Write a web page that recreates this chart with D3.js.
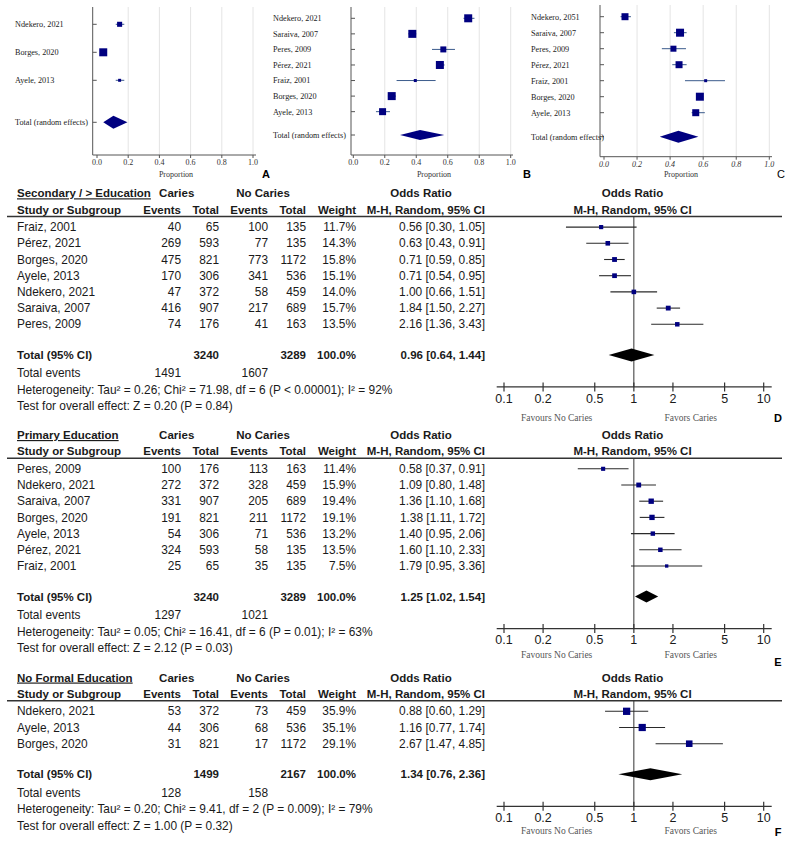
<!DOCTYPE html>
<html>
<head>
<meta charset="utf-8">
<script src="https://cdn.jsdelivr.net/npm/d3@7"></script>
<style>
  body { margin: 0; background: #fff; }
  svg { display: block; }
  .tbl { font-family: "Liberation Sans", Arial, sans-serif; font-size: 11.9px; fill: #1a1a1a; }
  .ser { font-family: "Liberation Serif", "Times New Roman", serif; }
</style>
</head>
<body>
<div id="chart"></div>
<script>
// ============================================
// Data — proportion panels (A, B, C)
// ============================================
const propStudiesA = ['Ndekero, 2021', 'Borges, 2020', 'Ayele, 2013'];
const propValA = [0.145, 0.04, 0.145];
const propLoA = [0.12, 0.03, 0.12];
const propHiA = [0.175, 0.05, 0.175];
const propWeightA = [26, 65, 9];
const propTotalA = [0.105, 0.04, 0.195]; // estimate, low, high

const propStudiesB = ['Ndekero, 2021', 'Saraiva, 2007', 'Peres, 2009', 'Pérez, 2021', 'Fraiz, 2001', 'Borges, 2020', 'Ayele, 2013'];
const propValB = [0.73, 0.375, 0.572, 0.55, 0.394, 0.244, 0.186];
const propLoB = [0.70, 0.35, 0.50, 0.53, 0.275, 0.22, 0.144];
const propHiB = [0.77, 0.40, 0.646, 0.58, 0.523, 0.27, 0.233];
const propWeightB = [18.3, 18.3, 10.3, 18.3, 2.6, 18.3, 14];
const propTotalB = [0.424, 0.297, 0.578];

const propStudiesC = ['Ndekero, 2051', 'Saraiva, 2007', 'Peres, 2009', 'Pérez, 2021', 'Fraiz, 2001', 'Borges, 2020', 'Ayele, 2013'];
const propValC = [0.127, 0.46, 0.42, 0.454, 0.615, 0.58, 0.555];
const propLoC = [0.10, 0.423, 0.35, 0.413, 0.49, 0.56, 0.53];
const propHiC = [0.163, 0.50, 0.496, 0.50, 0.732, 0.60, 0.61];
const propWeightC = [15.3, 20, 11.3, 15.3, 2.8, 20, 15.3];
const propTotalC = [0.45, 0.337, 0.571];

const propTicks = [0.0, 0.2, 0.4, 0.6, 0.8, 1.0];

// ============================================
// Data — odds ratio forest plots (D, E, F)
// ============================================
const secTitle = 'Secondary / > Education';
const secStudies = ['Fraiz, 2001', 'Pérez, 2021', 'Borges, 2020', 'Ayele, 2013', 'Ndekero, 2021', 'Saraiva, 2007', 'Peres, 2009'];
const secCariesEv = [40, 269, 475, 170, 47, 416, 74];
const secCariesTot = [65, 593, 821, 306, 372, 907, 176];
const secNoEv = [100, 77, 773, 341, 58, 217, 41];
const secNoTot = [135, 135, 1172, 536, 459, 689, 163];
const secWeight = [11.7, 14.3, 15.8, 15.1, 14.0, 15.7, 13.5];
const secOR = [0.56, 0.63, 0.71, 0.71, 1.00, 1.84, 2.16];
const secLo = [0.30, 0.43, 0.59, 0.54, 0.66, 1.50, 1.36];
const secHi = [1.05, 0.91, 0.85, 0.95, 1.51, 2.27, 3.43];
const secTotals = [1491, 3240, 1607, 3289]; // caries events, caries total, no-caries events, no-caries total
const secPooled = [0.96, 0.64, 1.44];
const secHet = 'Heterogeneity: Tau² = 0.26; Chi² = 71.98, df = 6 (P < 0.00001); I² = 92%';
const secTest = 'Test for overall effect: Z = 0.20 (P = 0.84)';

const priTitle = 'Primary Education';
const priStudies = ['Peres, 2009', 'Ndekero, 2021', 'Saraiva, 2007', 'Borges, 2020', 'Ayele, 2013', 'Pérez, 2021', 'Fraiz, 2001'];
const priCariesEv = [100, 272, 331, 191, 54, 324, 25];
const priCariesTot = [176, 372, 907, 821, 306, 593, 65];
const priNoEv = [113, 328, 205, 211, 71, 58, 35];
const priNoTot = [163, 459, 689, 1172, 536, 135, 135];
const priWeight = [11.4, 15.9, 19.4, 19.1, 13.2, 13.5, 7.5];
const priOR = [0.58, 1.09, 1.36, 1.38, 1.40, 1.60, 1.79];
const priLo = [0.37, 0.80, 1.10, 1.11, 0.95, 1.10, 0.95];
const priHi = [0.91, 1.48, 1.68, 1.72, 2.06, 2.33, 3.36];
const priTotals = [1297, 3240, 1021, 3289];
const priPooled = [1.25, 1.02, 1.54];
const priHet = 'Heterogeneity: Tau² = 0.05; Chi² = 16.41, df = 6 (P = 0.01); I² = 63%';
const priTest = 'Test for overall effect: Z = 2.12 (P = 0.03)';

const nfeTitle = 'No Formal Education';
const nfeStudies = ['Ndekero, 2021', 'Ayele, 2013', 'Borges, 2020'];
const nfeCariesEv = [53, 44, 31];
const nfeCariesTot = [372, 306, 821];
const nfeNoEv = [73, 68, 17];
const nfeNoTot = [459, 536, 1172];
const nfeWeight = [35.9, 35.1, 29.1];
const nfeOR = [0.88, 1.16, 2.67];
const nfeLo = [0.60, 0.77, 1.47];
const nfeHi = [1.29, 1.74, 4.85];
const nfeTotals = [128, 1499, 158, 2167];
const nfePooled = [1.34, 0.76, 2.36];
const nfeHet = 'Heterogeneity: Tau² = 0.20; Chi² = 9.41, df = 2 (P = 0.009); I² = 79%';
const nfeTest = 'Test for overall effect: Z = 1.00 (P = 0.32)';

const orTicks = [0.1, 0.2, 0.5, 1, 2, 5, 10];

// ============================================
const W = 793, H = 843;
const NAVY = '#000080';

const svg = d3.select('#chart').append('svg')
    .attr('width', W)
    .attr('height', H)
    .style('background', '#fff');

// ---------- proportion panels ----------
function drawPropPanel(p) {
    const g = svg.append('g');
    const x = d3.scaleLinear().domain([0, 1]).range(p.xRange);
    const n = p.studies.length;
    const y = d3.scaleLinear().domain([0, n + 0.5]).range(p.yRange);
    const size = d3.scaleSqrt().domain([0, d3.max(p.weight)]).range([0, 8]);

    // grid
    g.selectAll('.grid').data(propTicks.slice(1)).enter().append('line')
        .attr('x1', d => x(d)).attr('x2', d => x(d))
        .attr('y1', p.top).attr('y2', p.bottom)
        .attr('stroke', '#e4e4e4').attr('stroke-width', 1);

    // axes
    g.append('line').attr('x1', p.axisX).attr('x2', p.axisX)
        .attr('y1', p.top).attr('y2', p.bottom).attr('stroke', '#555');
    g.append('line').attr('x1', p.axisX).attr('x2', p.axisEnd)
        .attr('y1', p.bottom).attr('y2', p.bottom).attr('stroke', '#555');

    g.selectAll('.xt').data(propTicks).enter().append('line')
        .attr('x1', d => x(d)).attr('x2', d => x(d))
        .attr('y1', p.bottom).attr('y2', p.bottom + 3).attr('stroke', '#555');
    g.selectAll('.xl').data(propTicks).enter().append('text')
        .attr('class', 'ser')
        .attr('x', d => x(d)).attr('y', p.tickY)
        .attr('text-anchor', 'middle').attr('dy', '0.35em')
        .style('font-size', '8px').style('font-style', p.italic ? 'italic' : 'normal')
        .attr('fill', '#333')
        .text(d => d.toFixed(1));
    g.append('text').attr('class', 'ser')
        .attr('x', p.propX).attr('y', 174).attr('dy', '0.35em')
        .attr('text-anchor', 'middle').style('font-size', '8px').attr('fill', '#333')
        .text('Proportion');

    const rows = p.studies.map((s, i) => ({ name: s, v: p.val[i], lo: p.lo[i], hi: p.hi[i], w: p.weight[i], i }));
    const allIdx = rows.map(r => r.i).concat([n + 0.5]);

    // row ticks on the y axis
    g.selectAll('.yt').data(allIdx).enter().append('line')
        .attr('x1', p.axisX).attr('x2', p.axisX + 4)
        .attr('y1', d => y(d)).attr('y2', d => y(d)).attr('stroke', '#555');

    g.selectAll('.lab').data(rows.map(r => r.name).concat(['Total (random effects)'])).enter()
        .append('text').attr('class', 'ser')
        .attr('x', p.labelX).attr('y', (d, i) => y(allIdx[i])).attr('dy', '0.35em')
        .style('font-size', '8.2px').attr('fill', '#222')
        .text(d => d);

    g.selectAll('.ci').data(rows).enter().append('line')
        .attr('x1', d => x(d.lo)).attr('x2', d => x(d.hi))
        .attr('y1', d => y(d.i)).attr('y2', d => y(d.i))
        .attr('stroke', '#3b5b8c').attr('stroke-width', 1);
    g.selectAll('.sq').data(rows).enter().append('rect')
        .attr('x', d => x(d.v) - size(d.w) / 2)
        .attr('y', d => y(d.i) - size(d.w) / 2)
        .attr('width', d => size(d.w)).attr('height', d => size(d.w))
        .attr('fill', NAVY);

    const [te, tl, th] = p.total;
    const ty = y(n + 0.5), hh = p.diamondH / 2;
    g.append('path')
        .attr('d', `M${x(tl)},${ty}L${x(te)},${ty - hh}L${x(th)},${ty}L${x(te)},${ty + hh}Z`)
        .attr('fill', NAVY);

    g.append('text')
        .attr('x', p.letterX).attr('y', 174).attr('dy', '0.35em')
        .attr('text-anchor', 'middle')
        .style('font-family', '"Liberation Sans", Arial, sans-serif')
        .style('font-size', '11px').style('font-weight', p.letterBold ? 'bold' : 'normal')
        .text(p.letter);
}

drawPropPanel({
    studies: propStudiesA, val: propValA, lo: propLoA, hi: propHiA, weight: propWeightA, total: propTotalA,
    xRange: [97, 253], yRange: [24.3, 122.3], axisX: 92.7, axisEnd: 256, top: 7, bottom: 155,
    labelX: 15, tickY: 162, propX: 176, letter: 'A', letterX: 266, letterBold: true, diamondH: 13
});
drawPropPanel({
    studies: propStudiesB, val: propValB, lo: propLoB, hi: propHiB, weight: propWeightB, total: propTotalB,
    xRange: [353.3, 510.7], yRange: [18.3, 135], axisX: 351, axisEnd: 513, top: 7, bottom: 155,
    labelX: 273, tickY: 162, propX: 434, letter: 'B', letterX: 527, letterBold: true, diamondH: 10
});
drawPropPanel({
    studies: propStudiesC, val: propValC, lo: propLoC, hi: propHiC, weight: propWeightC, total: propTotalC,
    xRange: [604, 769.3], yRange: [16.7, 136.7], axisX: 600, axisEnd: 772, top: 5, bottom: 156.7,
    labelX: 531, tickY: 164, propX: 681, letter: 'C', letterX: 781, letterBold: false, diamondH: 12, italic: true
});

// ---------- forest plots ----------
const COL = { name: 17, cEv: 181, cTot: 219, nEv: 268, nTot: 306, weight: 356, ci: 485 };
const fx = d3.scaleLog().domain([0.1, 10]).range([504, 763.7]);
const sqSize = d3.scaleSqrt().domain([0, 36]).range([0, 7.3]);
const fmt2 = d3.format('.2f');

function drawForest(b, L) {
    const g = svg.append('g').attr('class', 'tbl');
    const t = L.top;
    const rowY = i => t + 33.8 + i * 16.2;
    const n = b.studies.length;
    const totY = rowY(n - 1) + 30.6;
    const axisY = totY + 32;

    const txt = (x, y, s, anchor, bold) => g.append('text')
        .attr('x', x).attr('y', y).attr('dy', '0.35em')
        .attr('text-anchor', anchor || 'start')
        .style('font-weight', bold ? 'bold' : 'normal')
        .style('font-size', bold ? '11.5px' : null)
        .text(s);

    // headers
    txt(COL.name, t, b.title, 'start', true).style('text-decoration', 'underline');
    txt(176.7, t, 'Caries', 'middle', true);
    txt(263, t, 'No Caries', 'middle', true);
    txt(421, t, 'Odds Ratio', 'middle', true);
    txt(632.5, t, 'Odds Ratio', 'middle', true);
    const h2 = t + 16.3;
    txt(COL.name, h2, 'Study or Subgroup', 'start', true);
    txt(COL.cEv, h2, 'Events', 'end', true);
    txt(COL.cTot, h2, 'Total', 'end', true);
    txt(COL.nEv, h2, 'Events', 'end', true);
    txt(COL.nTot, h2, 'Total', 'end', true);
    txt(COL.weight, h2, 'Weight', 'end', true);
    txt(COL.ci, h2, 'M-H, Random, 95% CI', 'end', true);
    txt(632.5, h2, 'M-H, Random, 95% CI', 'middle', true);

    const lineY = t + 23.3;
    g.append('line').attr('x1', 7).attr('x2', 782)
        .attr('y1', lineY).attr('y2', lineY)
        .attr('stroke', '#333').attr('stroke-width', 1.5);

    // study rows
    const rows = b.studies.map((s, i) => ({
        name: s, ce: b.cEv[i], ct: b.cTot[i], ne: b.nEv[i], nt: b.nTot[i],
        w: b.weight[i], or: b.or[i], lo: b.lo[i], hi: b.hi[i], y: rowY(i)
    }));
    rows.forEach(r => {
        txt(COL.name, r.y, r.name);
        txt(COL.cEv, r.y, r.ce, 'end');
        txt(COL.cTot, r.y, r.ct, 'end');
        txt(COL.nEv, r.y, r.ne, 'end');
        txt(COL.nTot, r.y, r.nt, 'end');
        txt(COL.weight, r.y, r.w.toFixed(1) + '%', 'end');
        txt(COL.ci, r.y, `${fmt2(r.or)} [${fmt2(r.lo)}, ${fmt2(r.hi)}]`, 'end');
    });

    // totals
    txt(COL.name, totY, 'Total (95% CI)', 'start', true);
    txt(COL.cTot, totY, b.totals[1], 'end', true);
    txt(COL.nTot, totY, b.totals[3], 'end', true);
    txt(COL.weight, totY, '100.0%', 'end', true);
    txt(COL.ci, totY, `${fmt2(b.pooled[0])} [${fmt2(b.pooled[1])}, ${fmt2(b.pooled[2])}]`, 'end', true);
    txt(COL.name, totY + 18.2, 'Total events');
    txt(COL.cEv, totY + 18.2, b.totals[0], 'end');
    txt(COL.nEv, totY + 18.2, b.totals[2], 'end');
    txt(COL.name, totY + 34.9, b.het);
    txt(COL.name, totY + 51.2, b.test);

    // plot: null line
    g.append('line').attr('x1', fx(1)).attr('x2', fx(1))
        .attr('y1', lineY).attr('y2', axisY)
        .attr('stroke', '#333').attr('stroke-width', 1);

    g.selectAll('.ci').data(rows).enter().append('line')
        .attr('x1', d => fx(d.lo)).attr('x2', d => fx(d.hi))
        .attr('y1', d => d.y).attr('y2', d => d.y)
        .attr('stroke', '#2a2a2a').attr('stroke-width', 1.1);
    g.selectAll('.sq').data(rows).enter().append('rect')
        .attr('x', d => fx(d.or) - sqSize(d.w) / 2)
        .attr('y', d => d.y - sqSize(d.w) / 2)
        .attr('width', d => sqSize(d.w)).attr('height', d => sqSize(d.w))
        .attr('fill', NAVY);

    const [pe, pl, ph] = b.pooled;
    const dh = L.diamondH / 2;
    g.append('path')
        .attr('d', `M${fx(pl)},${totY}L${fx(pe)},${totY - dh}L${fx(ph)},${totY}L${fx(pe)},${totY + dh}Z`)
        .attr('fill', '#000');

    // axis
    g.append('line').attr('x1', 496.7).attr('x2', 771.7)
        .attr('y1', axisY).attr('y2', axisY)
        .attr('stroke', '#333').attr('stroke-width', 1.2);
    g.selectAll('.ot').data(orTicks).enter().append('line')
        .attr('x1', d => fx(d)).attr('x2', d => fx(d))
        .attr('y1', axisY - 4.5).attr('y2', axisY + 4.5)
        .attr('stroke', '#333').attr('stroke-width', 1.2);
    g.selectAll('.ol').data(orTicks).enter().append('text')
        .attr('x', d => fx(d)).attr('y', axisY + 11.5).attr('dy', '0.35em')
        .attr('text-anchor', 'middle').style('font-size', '12.5px')
        .text(d => d);

    g.append('text').attr('class', 'ser')
        .attr('x', 556.7).attr('y', L.favY).attr('dy', '0.35em')
        .attr('text-anchor', 'middle').style('font-size', '9.5px').attr('fill', '#555')
        .text('Favours No Caries');
    g.append('text').attr('class', 'ser')
        .attr('x', 690.7).attr('y', L.favY).attr('dy', '0.35em')
        .attr('text-anchor', 'middle').style('font-size', '9.5px').attr('fill', '#555')
        .text('Favors Caries');
    g.append('text')
        .attr('x', 778).attr('y', L.letterY).attr('dy', '0.35em')
        .attr('text-anchor', 'middle').style('font-size', '11px').style('font-weight', 'bold')
        .attr('fill', '#000')
        .text(L.letter);
}

drawForest({
    title: secTitle, studies: secStudies, cEv: secCariesEv, cTot: secCariesTot, nEv: secNoEv, nTot: secNoTot,
    weight: secWeight, or: secOR, lo: secLo, hi: secHi, totals: secTotals, pooled: secPooled, het: secHet, test: secTest
}, { top: 193.3, favY: 417.7, letterY: 418, letter: 'D', diamondH: 13 });

drawForest({
    title: priTitle, studies: priStudies, cEv: priCariesEv, cTot: priCariesTot, nEv: priNoEv, nTot: priNoTot,
    weight: priWeight, or: priOR, lo: priLo, hi: priHi, totals: priTotals, pooled: priPooled, het: priHet, test: priTest
}, { top: 435, favY: 655, letterY: 661.7, letter: 'E', diamondH: 12 });

drawForest({
    title: nfeTitle, studies: nfeStudies, cEv: nfeCariesEv, cTot: nfeCariesTot, nEv: nfeNoEv, nTot: nfeNoTot,
    weight: nfeWeight, or: nfeOR, lo: nfeLo, hi: nfeHi, totals: nfeTotals, pooled: nfePooled, het: nfeHet, test: nfeTest
}, { top: 677.5, favY: 830.7, letterY: 831.7, letter: 'F', diamondH: 12 });
</script>
</body>
</html>
